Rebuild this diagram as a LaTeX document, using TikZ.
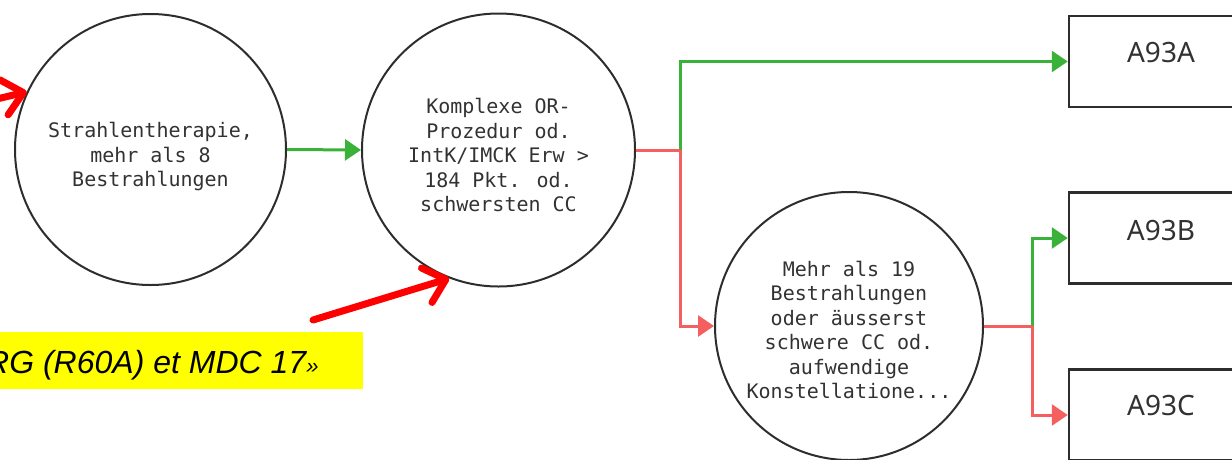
\documentclass[tikz,border=0pt]{standalone}
\usepackage{fontspec}
\newfontfamily\monofont{DejaVu Sans Mono}
\newfontfamily\boxfont{Noto Sans}
\newfontfamily\notefont{Liberation Sans}
\usetikzlibrary{arrows.meta}
\definecolor{okgreen}{RGB}{58,178,58}
\definecolor{nogored}{RGB}{244,96,96}
\definecolor{markred}{RGB}{255,0,0}
\definecolor{outline}{RGB}{45,45,45}
\definecolor{ink}{RGB}{50,50,50}
\definecolor{hilite}{RGB}{255,255,0}
\tikzset{
  decision/.style={circle, draw=outline, line width=2pt, minimum size=#1, inner sep=0pt},
  decisiontext/.style={font=\monofont\fontsize{20}{24.5}\selectfont, text=ink, align=center, inner sep=0pt},
  result/.style={draw=outline, line width=2.5pt, minimum width=184pt, minimum height=91pt, inner sep=0pt},
  resulttext/.style={font=\boxfont\fontsize{28}{30}\selectfont, text=ink, inner sep=0pt},
  yesline/.style={draw=okgreen, line width=3pt, -{Triangle[length=16pt,width=21pt]}},
  noline/.style={draw=nogored, line width=3pt},
  noarrow/.style={noline, -{Triangle[length=16pt,width=21pt]}},
  marker/.style={draw=markred, line width=7pt, line cap=round, line join=round,
    -{Straight Barb[length=20pt,width=36pt,round]}},
}
\begin{document}
\begin{tikzpicture}[x=1pt, y=-1pt]
  \useasboundingbox (0,0) rectangle (1232,459);
  \clip (0,0) rectangle (1232,459);

  % decision circles
  \node[decision=271pt] (c1) at (150.5,149.5) {};
  \node[decision=273pt] (c2) at (498.5,150) {};
  \node[decision=268pt] (c3) at (849,326) {};
  \node[decisiontext] (c1t) at ([yshift=-7pt]c1.center)
    {Strahlentherapie,\\mehr als 8\\Bestrahlungen};
  \node[decisiontext] (c2t) at ([yshift=-5pt]c2.center)
    {Komplexe OR-\\Prozedur od.\\IntK/IMCK Erw >\\184 Pkt. od.\\schwersten CC};
  \node[decisiontext] (c3t) at ([yshift=-4pt]c3.center)
    {Mehr als 19\\Bestrahlungen\\oder äusserst\\schwere CC od.\\aufwendige\\Konstellatione...};

  % result boxes
  \node[result] (bA) at (1161,61.5) {};
  \node[result] (bB) at (1161,238) {};
  \node[result] (bC) at (1161,415) {};
  \node[resulttext] (bAt) at ([yshift=9pt]bA.center) {A93A};
  \node[resulttext] (bBt) at ([yshift=8pt]bB.center) {A93B};
  \node[resulttext] (bCt) at ([yshift=10pt]bC.center) {A93C};

  % branch points
  \coordinate (j1) at (680,150);
  \coordinate (j2) at (1032,326);

  % connectors
  \draw[yesline] (c1.east) -- (c2.west);
  \draw[yesline] (j1) |- (bA.west);
  \draw[noline] (c2.east) -- (j1);
  \draw[noarrow] (j1) |- (c3.west);
  \draw[yesline] (j2) |- (bB.west);
  \draw[noline] (c3.east) -- (j2);
  \draw[noarrow] (j2) |- (bC.west);

  % highlighted note
  \fill[hilite] (-2,332) rectangle (363,389);
  \node[anchor=base west, inner sep=0pt, font=\notefont\itshape\fontsize{32}{34}\selectfont] (note)
    at (-14,373) {RG (R60A) et MDC 17{\fontsize{22}{22}\selectfont»}};

  % red pointer arrows
  \coordinate (m1) at (-95,121);
  \coordinate (m2) at (313,320);
  \draw[marker] (m1) -- (c1.155);
  \draw[marker] (m2) -- (c2.249);
\end{tikzpicture}
\end{document}
